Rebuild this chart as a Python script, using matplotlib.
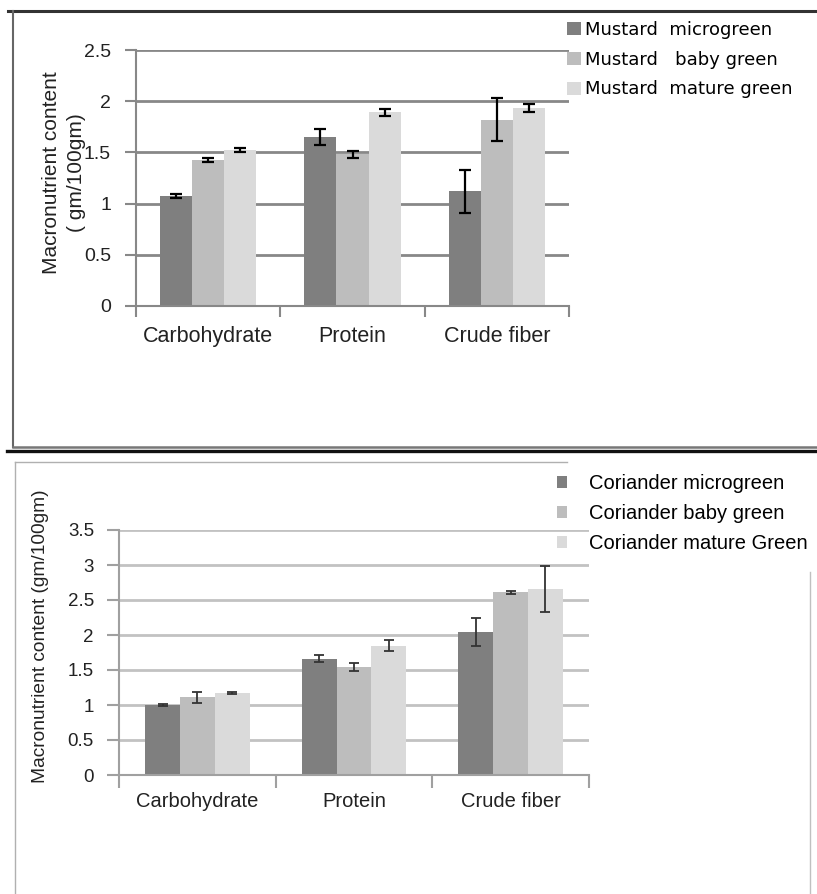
import matplotlib
matplotlib.use("Agg")
import matplotlib.pyplot as plt
import numpy as np
from matplotlib.lines import Line2D
from matplotlib.patches import Patch

# ---------------- data ----------------
categories = ["Carbohydrate", "Protein", "Crude fiber"]

mustard_labels = ["Mustard  microgreen", "Mustard   baby green", "Mustard  mature green"]
mustard_micro = [1.07, 1.65, 1.12]
mustard_baby = [1.43, 1.48, 1.82]
mustard_mature = [1.52, 1.89, 1.93]
mustard_micro_err = [0.02, 0.08, 0.21]
mustard_baby_err = [0.02, 0.03, 0.21]
mustard_mature_err = [0.02, 0.03, 0.04]

coriander_labels = ["Coriander microgreen", "Coriander baby green", "Coriander mature Green"]
coriander_micro = [1.00, 1.66, 2.04]
coriander_baby = [1.11, 1.54, 2.61]
coriander_mature = [1.17, 1.85, 2.66]
coriander_micro_err = [0.01, 0.05, 0.20]
coriander_baby_err = [0.08, 0.06, 0.02]
coriander_mature_err = [0.01, 0.075, 0.33]

top_yticks = [0, 0.5, 1, 1.5, 2, 2.5]
top_ytick_labels = ["0", "0.5", "1", "1.5", "2", "2.5"]
bot_yticks = [0, 0.5, 1, 1.5, 2, 2.5, 3, 3.5]
bot_ytick_labels = ["0", "0.5", "1", "1.5", "2", "2.5", "3", "3.5"]

colors = ["#7f7f7f", "#bdbdbd", "#dadada"]

NARROW = ["Liberation Sans", "DejaVu Sans"]
ARIAL = ["Liberation Sans", "DejaVu Sans"]

W, H = 817, 894
fig = plt.figure(figsize=(W / 100, H / 100), dpi=100)


def px(x0, y0, x1, y1):
    return [x0 / W, 1 - y1 / H, (x1 - x0) / W, (y1 - y0) / H]


def draw_panel(ax, series, errs, yticks, yticklabels, ymax, grid_color,
               err_color, err_lw, capsize, xfs, yfs, ylab, ylab_fs, ylab_coords,
               ylab_ls, tick_len, xpad, ypad, spine_color):
    x = np.arange(len(categories))
    bw = 0.222
    offsets = [-bw, 0, bw]
    for vals, err, off, c in zip(series, errs, offsets, colors):
        ax.bar(x + off, vals, width=bw, color=c, edgecolor="none", zorder=2)
        ax.errorbar(x + off, vals, yerr=err, fmt="none", ecolor=err_color,
                    elinewidth=err_lw, capsize=capsize, capthick=err_lw, zorder=3)
    ax.set_xlim(-0.5, len(categories) - 0.5)
    ax.set_ylim(0, ymax)
    ax.set_yticks(yticks)
    ax.set_yticklabels(yticklabels, fontsize=yfs, family=NARROW, color="#222222")
    ax.set_xticks(np.arange(len(categories) + 1) - 0.5)
    ax.set_xticklabels([""] * (len(categories) + 1))
    ax.set_xticks(x, minor=True)
    ax.set_xticklabels(categories, minor=True, fontsize=xfs, family=NARROW,
                       color="#222222")
    ax.tick_params(axis="x", which="major", length=tick_len, width=1.5,
                   color=spine_color, direction="out")
    ax.tick_params(axis="x", which="minor", length=0, pad=xpad)
    ax.tick_params(axis="y", length=tick_len, width=1.5, color=spine_color,
                   pad=ypad)
    ax.yaxis.grid(True, color=grid_color, lw=2)
    ax.set_axisbelow(True)
    for s in ["top", "right"]:
        ax.spines[s].set_visible(False)
    for s in ["left", "bottom"]:
        ax.spines[s].set_color(spine_color)
        ax.spines[s].set_linewidth(1.5)
    ax.set_ylabel(ylab, fontsize=ylab_fs, family=ARIAL, color="#222222",
                  va="center", ha="center", linespacing=ylab_ls)
    ax.yaxis.set_label_coords(*ylab_coords)


# ---------------- top panel (mustard) ----------------
ax1 = fig.add_axes(px(136, 50, 569, 306))
draw_panel(ax1,
           [mustard_micro, mustard_baby, mustard_mature],
           [mustard_micro_err, mustard_baby_err, mustard_mature_err],
           top_yticks, top_ytick_labels, 2.5,
           grid_color="#888888", err_color="black", err_lw=1.6, capsize=4.2,
           xfs=15.5, yfs=14, ylab="Macronutrient content\n( gm/100gm)",
           ylab_fs=15, ylab_coords=(-0.167, 0.52), ylab_ls=1.4,
           tick_len=8, xpad=14.5, ypad=10, spine_color="#888888")
handles1 = [Patch(facecolor=c, edgecolor="none") for c in colors]
fig.legend(handles1, mustard_labels, loc="upper left",
           bbox_to_anchor=(567 / W, 1 - 21 / H), frameon=False,
           prop={"family": ["DejaVu Sans"], "size": 13},
           handlelength=0.75, handleheight=0.75, handletextpad=0.25,
           labelspacing=0.65, borderpad=0, borderaxespad=0)

# ---------------- bottom panel (coriander) ----------------
ax2 = fig.add_axes(px(119, 530, 589, 775))
draw_panel(ax2,
           [coriander_micro, coriander_baby, coriander_mature],
           [coriander_micro_err, coriander_baby_err, coriander_mature_err],
           bot_yticks, bot_ytick_labels, 3.5,
           grid_color="#c2c2c2", err_color="#333333", err_lw=1.3, capsize=3.4,
           xfs=14.5, yfs=13.5, ylab="Macronutrient content (gm/100gm)",
           ylab_fs=13.8, ylab_coords=(-0.168, 0.567), ylab_ls=1.2,
           tick_len=9, xpad=12.5, ypad=9, spine_color="#a0a0a0")
handles2 = [Patch(facecolor=c, edgecolor="none") for c in colors]
fig.legend(handles2, coriander_labels, loc="upper left",
           bbox_to_anchor=(557 / W, 1 - 474 / H), frameon=False,
           prop={"family": ARIAL, "size": 14.5},
           handlelength=0.5, handleheight=0.5, handletextpad=1.1,
           labelspacing=0.55, borderpad=0, borderaxespad=0)

# ---------------- panel frames ----------------
def fline(xs, ys, color, lw):
    fig.add_artist(Line2D([v / W for v in xs], [1 - v / H for v in ys],
                          color=color, lw=lw, transform=fig.transFigure))

fline([8, 817], [11, 11], "#333333", 2.2)
fline([13, 13], [11, 447], "#666666", 1.5)
fline([13, 817], [447, 447], "#777777", 1.8)
fline([7, 817], [451, 451], "#111111", 2.4)
fline([15, 567], [462, 462], "#b0b0b0", 1.0)
fline([15, 15], [462, 894], "#b0b0b0", 1.0)
fline([810, 810], [572, 894], "#c0c0c0", 1.0)

fig.savefig("out.png", dpi=100)
